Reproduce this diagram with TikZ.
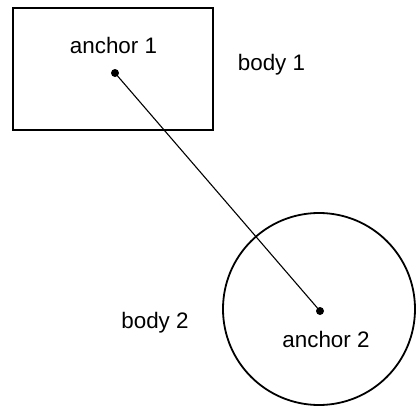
\documentclass[tikz,border=0pt]{standalone}
\usepackage{fontspec}
\setmainfont{Liberation Sans}
\begin{document}
\begin{tikzpicture}[x=1pt,y=-1pt,
  lbl/.style={font=\fontsize{22.4}{26}\selectfont, inner sep=0pt, anchor=base},
  body/.style={draw=black, line width=1.8pt},
  anchordot/.style={circle, fill=black, inner sep=0pt, minimum size=8pt},
  link/.style={draw=black, line width=1.1pt}]
\useasboundingbox (0,0) rectangle (416,407);
\draw[body] (13,8) rectangle (213,130);
\draw[body] (319,309) circle (96);
\node[anchordot] (a1) at (115,73) {};
\node[anchordot] (a2) at (320,311) {};
\draw[link] (a1.center) -- (a2.center);
\node[lbl] (t1) at (113.5,53) {anchor 1};
\node[lbl] (t2) at (326,347) {anchor 2};
\node[lbl] (b1) at (271.5,70) {body 1};
\node[lbl] (b2) at (155,328) {body 2};
\end{tikzpicture}
\end{document}
